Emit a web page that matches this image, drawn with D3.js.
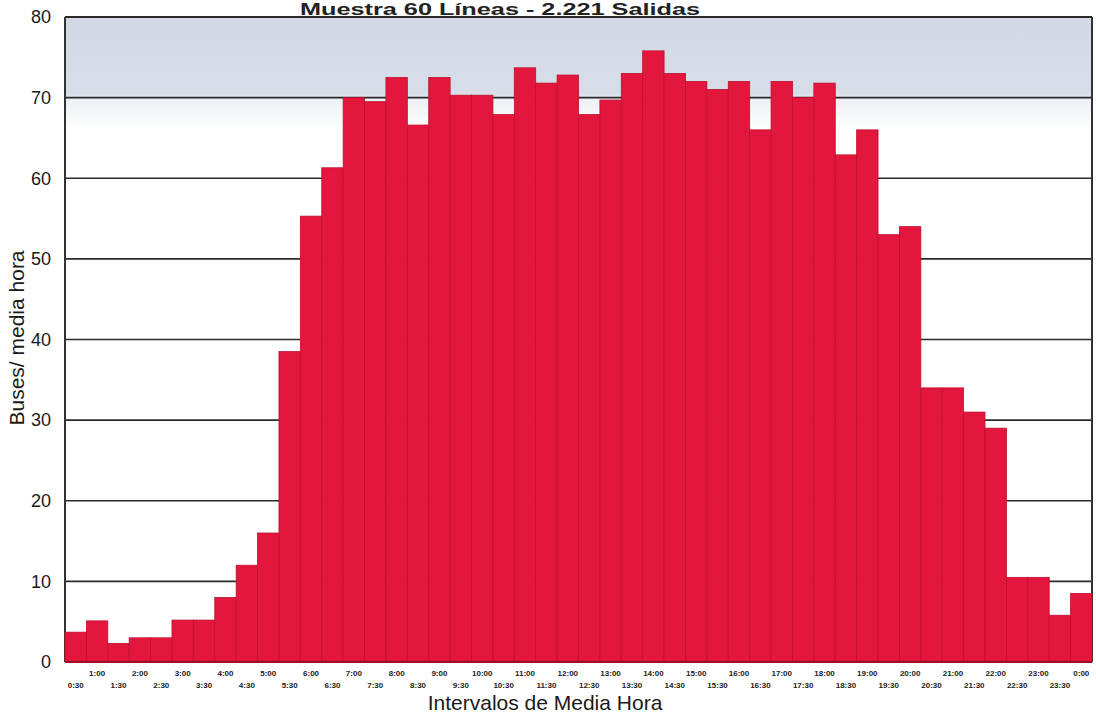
<!DOCTYPE html>
<html>
<head>
<meta charset="utf-8">
<script src="https://cdn.jsdelivr.net/npm/d3@7"></script>
<style>
  html, body { margin: 0; padding: 0; background: #ffffff; }
  svg { display: block; font-family: "Liberation Sans", Arial, sans-serif; }
</style>
</head>
<body>
<svg id="chart" width="1096" height="717"></svg>
<script>
// Half-hour interval labels (each bar is labelled by the end of its interval)
const intervals = [
  "0:30","1:00","1:30","2:00","2:30","3:00","3:30","4:00","4:30","5:00","5:30","6:00",
  "6:30","7:00","7:30","8:00","8:30","9:00","9:30","10:00","10:30","11:00","11:30","12:00",
  "12:30","13:00","13:30","14:00","14:30","15:00","15:30","16:00","16:30","17:00","17:30","18:00",
  "18:30","19:00","19:30","20:00","20:30","21:00","21:30","22:00","22:30","23:00","23:30","0:00"
];

// Buses dispatched in each half hour
const buses = [
  3.7, 5.1, 2.3, 3.0, 3.0, 5.2, 5.2, 8.0, 12.0, 16.0, 38.5, 55.3,
  61.3, 70.0, 69.5, 72.5, 66.6, 72.5, 70.3, 70.3, 67.9, 73.7, 71.8, 72.8,
  67.9, 69.7, 73.0, 75.8, 73.0, 72.0, 71.0, 72.0, 66.0, 72.0, 70.0, 71.8,
  62.9, 66.0, 53.0, 54.0, 34.0, 34.0, 31.0, 29.0, 10.5, 10.5, 5.8, 8.5
];

const yTicks = [0, 10, 20, 30, 40, 50, 60, 70, 80];

const titleText = "Muestra 60 Líneas - 2.221 Salidas";
const yTitle = "Buses/ media hora";
const xTitle = "Intervalos de Media Hora";

const svg = d3.select("#chart");
const plot = { left: 65, right: 1092, top: 17, bottom: 662 };

const x = d3.scaleBand().domain(intervals).range([plot.left, plot.right]).padding(0);
const y = d3.scaleLinear().domain([0, 80]).range([plot.bottom, plot.top]);

// Tinted band across the top of the plotting area
const defs = svg.append("defs");
const grad = defs.append("linearGradient").attr("id", "topTint")
  .attr("x1", 0).attr("y1", 0).attr("x2", 0).attr("y2", 1);
grad.append("stop").attr("offset", "0%").attr("stop-color", "#d2d9e4");
grad.append("stop").attr("offset", "68%").attr("stop-color", "#d8dee8");
grad.append("stop").attr("offset", "74%").attr("stop-color", "#eef1f5");
grad.append("stop").attr("offset", "100%").attr("stop-color", "#ffffff");

svg.append("rect")
  .attr("x", plot.left).attr("y", y(80))
  .attr("width", plot.right - plot.left).attr("height", y(66) - y(80))
  .attr("fill", "url(#topTint)");

// Horizontal grid lines
svg.append("g").selectAll("line")
  .data(yTicks.filter(d => d > 0))
  .join("line")
  .attr("x1", plot.left).attr("x2", plot.right)
  .attr("y1", d => y(d)).attr("y2", d => y(d))
  .attr("stroke", "#2a2a2a")
  .attr("stroke-width", d => d === 80 ? 2 : 1.6);

// Frame: left and right edges
svg.append("line")
  .attr("x1", plot.left).attr("x2", plot.left)
  .attr("y1", y(80)).attr("y2", y(0))
  .attr("stroke", "#333").attr("stroke-width", 2);
svg.append("line")
  .attr("x1", plot.right).attr("x2", plot.right)
  .attr("y1", y(80)).attr("y2", y(0))
  .attr("stroke", "#333").attr("stroke-width", 2);

// Bars
svg.append("g").selectAll("rect")
  .data(buses)
  .join("rect")
  .attr("x", (d, i) => x(intervals[i]))
  .attr("y", d => y(d))
  .attr("width", x.bandwidth())
  .attr("height", d => y(0) - y(d))
  .attr("fill", "#e3173d")
  .attr("stroke", "#bf0f2e")
  .attr("stroke-width", 0.8);

// Baseline
svg.append("line")
  .attr("x1", plot.left).attr("x2", plot.right)
  .attr("y1", y(0)).attr("y2", y(0))
  .attr("stroke", "#9c0a22").attr("stroke-width", 2);

// Y axis tick labels
svg.append("g").selectAll("text")
  .data(yTicks)
  .join("text")
  .attr("x", 51)
  .attr("y", d => y(d))
  .attr("dy", "0.35em")
  .attr("text-anchor", "end")
  .attr("font-size", 18)
  .attr("fill", "#1a1a1a")
  .text(d => d);

// X axis tick labels: two staggered rows
svg.append("g").selectAll("text")
  .data(intervals)
  .join("text")
  .attr("x", d => x(d) + x.bandwidth() / 2)
  .attr("y", (d, i) => i % 2 === 1 ? 676 : 688)
  .attr("text-anchor", "middle")
  .attr("font-size", 8)
  .attr("font-weight", "bold")
  .attr("fill", "#222")
  .text(d => d);

// Titles
svg.append("text")
  .attr("x", 500).attr("y", 15)
  .attr("text-anchor", "middle")
  .attr("font-size", 16)
  .attr("font-weight", "bold")
  .attr("fill", "#222")
  .attr("textLength", 400)
  .attr("lengthAdjust", "spacingAndGlyphs")
  .text(titleText);

svg.append("text")
  .attr("transform", "translate(24,338) rotate(-90)")
  .attr("text-anchor", "middle")
  .attr("font-size", 21)
  .attr("fill", "#1a1a1a")
  .text(yTitle);

svg.append("text")
  .attr("x", 545).attr("y", 710)
  .attr("text-anchor", "middle")
  .attr("font-size", 21)
  .attr("fill", "#1a1a1a")
  .text(xTitle);
</script>
</body>
</html>
